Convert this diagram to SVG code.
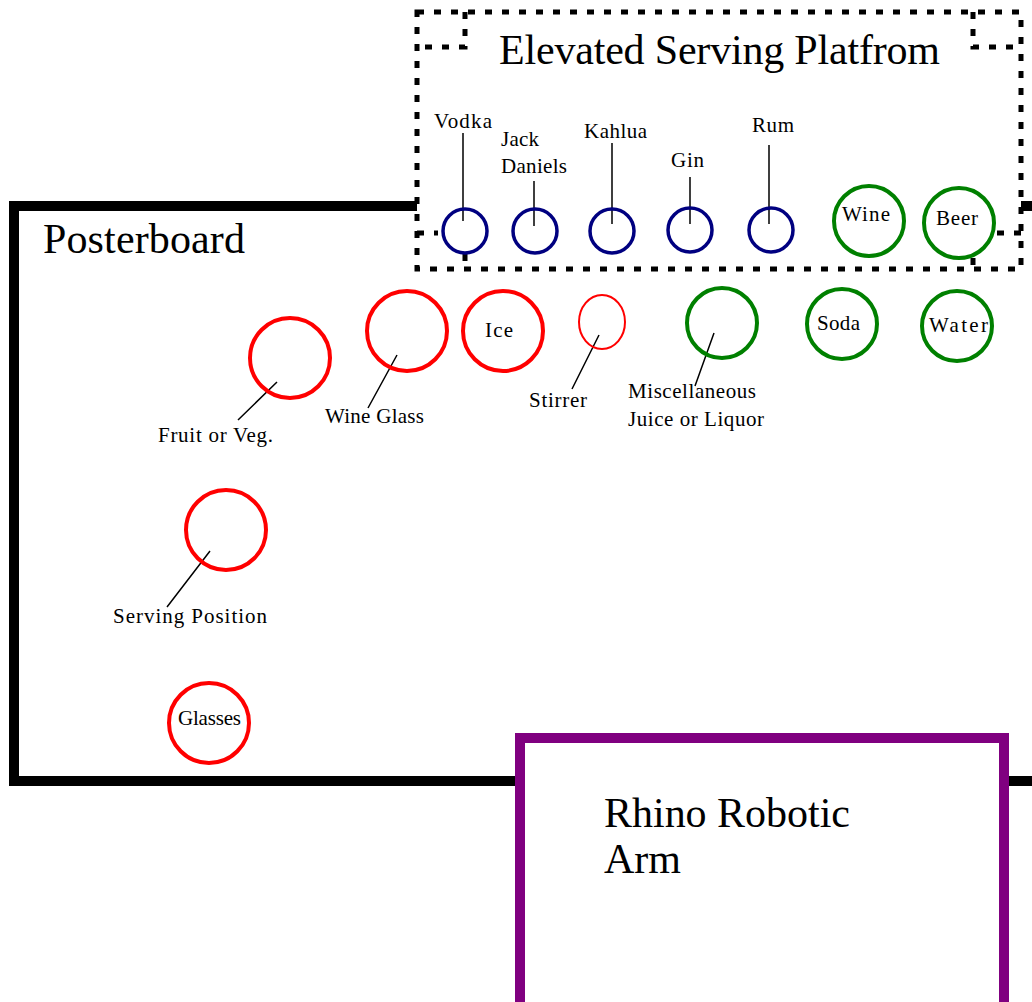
<svg xmlns="http://www.w3.org/2000/svg" width="1032" height="1002" viewBox="0 0 1032 1002">
<style>
.title{font-family:"Liberation Serif","Times New Roman",serif;font-size:42px;fill:#000}
.lbl{font-family:"Liberation Serif","Times New Roman",serif;font-size:21px;fill:#000}
.dot{fill:none;stroke:#000;stroke-width:5;stroke-dasharray:7 10}
.red{fill:none;stroke:#ff0000;stroke-width:4}
.blue{fill:none;stroke:#000080;stroke-width:3.5}
.green{fill:none;stroke:#008000;stroke-width:4}
.lead{stroke:#000;stroke-width:1.5;fill:none}
</style>
<rect width="1032" height="1002" fill="#fff"/>
<g id="posterboard">
<rect x="14" y="206" width="1040" height="575" fill="#fff" stroke="#000" stroke-width="10"/>
<text class="title" x="43" y="253" textLength="202">Posterboard</text>
</g>
<g id="platform">
<rect x="417" y="12" width="604" height="257" class="dot" style="fill:#fff"/>
<path class="dot" d="M465 12V47H417M973 12V47H1021M417 233H438M1021 233H997M465 254V269M973 258V269"/>
<text class="title" x="499" y="64" textLength="441">Elevated Serving Platfrom</text>
</g>
<g id="robotic-arm">
<rect x="520" y="738" width="484" height="300" fill="#fff" stroke="#800080" stroke-width="10"/>
<text class="title" x="604" y="827" textLength="246">Rhino Robotic</text>
<text class="title" x="604" y="873">Arm</text>
</g>
<g id="connectors">
<path class="lead" d="M463 133V221M534 181V226M612 143V224M690 177V224M769 145V224"/>
<path class="lead" d="M277 382L238 420M397 355L368 408M599 335L572 389M714 333L695 386M210 551L167 607"/>
</g>
<g id="vodka"><circle class="blue" cx="465" cy="231" r="22"/><text class="lbl" x="434" y="128" textLength="58">Vodka</text></g>
<g id="jack-daniels"><circle class="blue" cx="535" cy="231" r="22"/><text class="lbl" x="501" y="146" textLength="38">Jack</text><text class="lbl" x="501" y="173" textLength="66">Daniels</text></g>
<g id="kahlua"><circle class="blue" cx="612" cy="231" r="22"/><text class="lbl" x="584" y="138" textLength="63">Kahlua</text></g>
<g id="gin"><circle class="blue" cx="690" cy="230" r="22"/><text class="lbl" x="671" y="167" textLength="33">Gin</text></g>
<g id="rum"><circle class="blue" cx="771" cy="230" r="22"/><text class="lbl" x="752" y="132" textLength="42">Rum</text></g>
<g id="wine"><circle class="green" cx="869" cy="221" r="35"/><text class="lbl" x="842" y="221" textLength="48">Wine</text></g>
<g id="beer"><circle class="green" cx="959" cy="223" r="35"/><text class="lbl" x="936" y="225" textLength="42">Beer</text></g>
<g id="fruit"><circle class="red" cx="290" cy="358" r="40"/><text class="lbl" x="158" y="442" textLength="115">Fruit or Veg.</text></g>
<g id="wine-glass"><circle class="red" cx="407" cy="331" r="40"/><text class="lbl" x="325" y="423" textLength="99">Wine Glass</text></g>
<g id="ice"><circle class="red" cx="503" cy="331" r="40"/><text class="lbl" x="485" y="337" textLength="28">Ice</text></g>
<g id="stirrer"><ellipse cx="602" cy="322" rx="23" ry="27" fill="none" stroke="#ff0000" stroke-width="2"/><text class="lbl" x="529" y="407" textLength="58">Stirrer</text></g>
<g id="misc"><circle class="green" cx="722" cy="323" r="35"/><text class="lbl" x="628" y="398" textLength="128">Miscellaneous</text><text class="lbl" x="628" y="426" textLength="136">Juice or Liquor</text></g>
<g id="soda"><circle class="green" cx="842" cy="324" r="35"/><text class="lbl" x="817" y="330" textLength="43">Soda</text></g>
<g id="water"><circle class="green" cx="957" cy="326" r="35"/><text class="lbl" x="929" y="332" textLength="59">Water</text></g>
<g id="serving"><circle class="red" cx="226" cy="530" r="40"/><text class="lbl" x="113" y="623" textLength="154">Serving Position</text></g>
<g id="glasses"><circle class="red" cx="209" cy="723" r="40"/><text class="lbl" x="178" y="725" textLength="63">Glasses</text></g>
</svg>
